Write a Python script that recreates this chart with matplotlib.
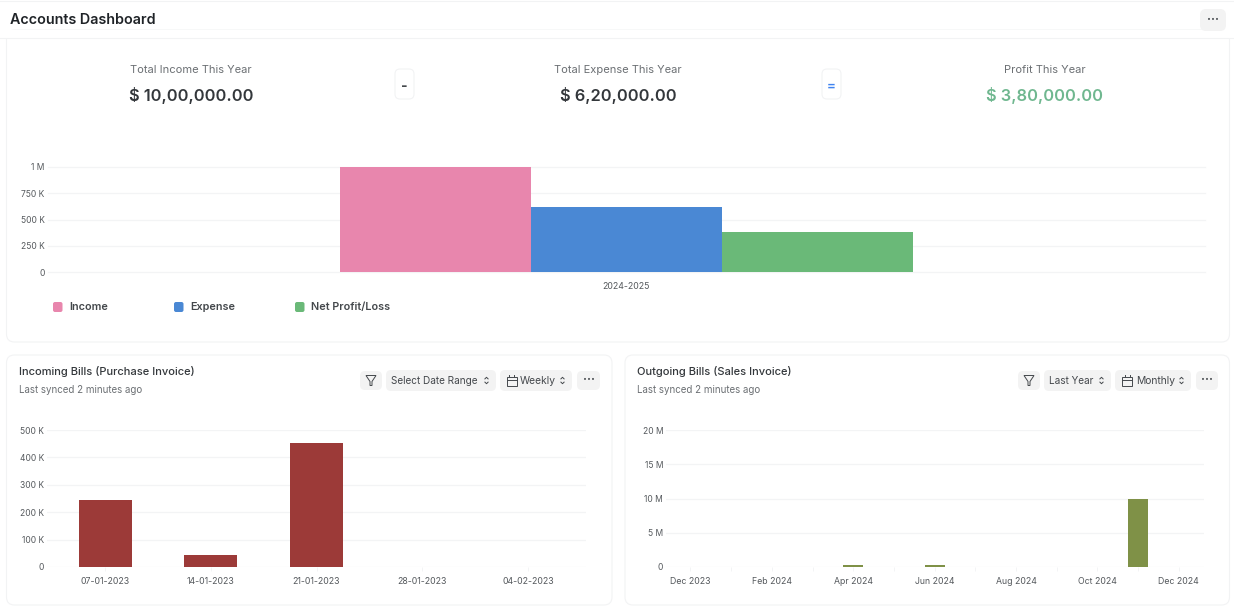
import matplotlib
matplotlib.use("Agg")
import matplotlib.pyplot as plt
from matplotlib.patches import FancyBboxPatch, Polygon, Rectangle

plt.rcParams['font.family'] = ['Inter', 'DejaVu Sans']

W, H = 1234, 614

# top chart
period = ["2024-2025"]
series_names = ["Income", "Expense", "Net Profit/Loss"]
series_values = [1000000, 620000, 380000]
series_colors = ["#E886AD", "#4A88D4", "#6AB978"]
top_ticks = [0, 250000, 500000, 750000, 1000000]
top_ticklabels = ["0", "250 K", "500 K", "750 K", "1 M"]

# incoming bills
in_weeks = ["07-01-2023", "14-01-2023", "21-01-2023", "28-01-2023", "04-02-2023"]
in_values = [245000, 45000, 452000, 0, 0]
in_ticks = [0, 100000, 200000, 300000, 400000, 500000]
in_ticklabels = ["0", "100 K", "200 K", "300 K", "400 K", "500 K"]

# outgoing bills
out_months = ["Dec 2023", "Jan 2024", "Feb 2024", "Mar 2024", "Apr 2024", "May 2024", "Jun 2024",
              "Jul 2024", "Aug 2024", "Sep 2024", "Oct 2024", "Nov 2024", "Dec 2024"]
out_values = [0, 0, 0, 0, 300000, 0, 300000, 70000, 70000, 0, 0, 10000000, 0]
out_ticks = [0, 5000000, 10000000, 15000000, 20000000]
out_ticklabels = ["0", "5 M", "10 M", "15 M", "20 M"]

GRID = "#F3F4F5"
BORDER = "#F2F3F4"
BTN = "#F3F3F3"
DARK = "#1F2327"
GREY = "#6B6F73"


def chart_axes(fig, left, right, top, bottom):
    # pixel box -> axes
    ax = fig.add_axes([left / W, 1 - bottom / H, (right - left) / W, (bottom - top) / H])
    ax.patch.set_alpha(0)
    for s in ax.spines.values():
        s.set_visible(False)
    ax.grid(axis="y", color=GRID, linewidth=0.9)
    ax.set_axisbelow(True)
    ax.tick_params(axis="y", length=0, pad=2, labelsize=6.1, labelcolor="#55595D")
    ax.tick_params(axis="x", length=0, pad=7, labelsize=6.3, labelcolor="#55595D")
    return ax


def round_box(bg, x0, y0, x1, y1, r, face, edge="none", lw=0.8):
    bg.add_patch(FancyBboxPatch((x0 + r, y0 + r), x1 - x0 - 2 * r, y1 - y0 - 2 * r,
                                boxstyle="round,pad=%f,rounding_size=%f" % (r, r),
                                facecolor=face, edgecolor=edge, linewidth=lw))


def chevrons(bg, x, y):
    bg.plot([x - 1.6, x, x + 1.6], [y - 1.6, y - 3.2, y - 1.6], color="#44484C", lw=0.7)
    bg.plot([x - 1.6, x, x + 1.6], [y + 1.6, y + 3.2, y + 1.6], color="#44484C", lw=0.7)


def funnel(bg, x, y):
    bg.add_patch(Polygon([(x - 5, y - 5), (x + 5, y - 5), (x + 1, y + 1), (x + 1, y + 5),
                          (x - 1, y + 5), (x - 1, y + 1)], closed=True, fill=False,
                         edgecolor="#44484C", linewidth=0.7))


def calendar(bg, x, y):
    bg.add_patch(Rectangle((x - 5, y - 4), 10, 9, fill=False, edgecolor="#44484C", linewidth=0.7))
    bg.plot([x - 5, x + 5], [y - 1, y - 1], color="#44484C", lw=0.7)
    bg.plot([x - 2.5, x - 2.5], [y - 6, y - 4], color="#44484C", lw=0.7)
    bg.plot([x + 2.5, x + 2.5], [y - 6, y - 4], color="#44484C", lw=0.7)


def dots(bg, x, y):
    bg.text(x, y, "···", ha="center", va="center", fontsize=8.5, color="#44484C", fontweight="bold")


fig = plt.figure(figsize=(W / 100, H / 100), dpi=100, facecolor="white")

# page layer in pixel coordinates
bg = fig.add_axes([0, 0, 1, 1])
bg.set_xlim(0, W)
bg.set_ylim(H, 0)
bg.axis("off")

bg.plot([0, W], [1, 1], color=BORDER, lw=0.8)
bg.text(10, 20, "Accounts Dashboard", fontsize=10.3, fontweight="semibold", color=DARK, va="center")

# cards
round_box(bg, 6.5, 30, 1229.5, 342, 8, "white", BORDER)
bg.add_patch(Rectangle((0, 30), W, 8, facecolor="white", edgecolor="none"))
round_box(bg, 1200, 9, 1226, 31, 6, BTN)
dots(bg, 1213, 19.5)
bg.plot([0, W], [38, 38], color=BORDER, lw=0.8)
round_box(bg, 6.5, 355, 612, 605, 8, "white", BORDER)
round_box(bg, 625, 355, 1229.5, 605, 8, "white", BORDER)

# number cards
bg.text(191, 70, "Total Income This Year", ha="center", va="center", fontsize=8, color=GREY)
bg.text(191, 95, "$ 10,00,000.00", ha="center", va="center", fontsize=11.8, fontweight="semibold", color="#33373B")
bg.text(618, 70, "Total Expense This Year", ha="center", va="center", fontsize=8, color=GREY)
bg.text(618, 95, "$ 6,20,000.00", ha="center", va="center", fontsize=11.8, fontweight="semibold", color="#33373B")
bg.text(1045, 70, "Profit This Year", ha="center", va="center", fontsize=8, color=GREY)
bg.text(1045, 95, "$ 3,80,000.00", ha="center", va="center", fontsize=11.8, fontweight="semibold", color="#6FB78F")

round_box(bg, 395, 69, 414, 99, 5, "white", BORDER)
bg.text(404.5, 86, "-", ha="center", va="center", fontsize=10, fontweight="bold", color="#44484C")
round_box(bg, 822, 69, 841, 99, 5, "white", BORDER)
bg.text(831.5, 87, "=", ha="center", va="center", fontsize=9.5, fontweight="bold", color="#3F83F0")

# top chart
ax_top = chart_axes(fig, 47.5, 1205, 167, 272)
bar_w = 0.165
for i, name in enumerate(series_names):
    ax_top.bar((i - 1) * bar_w, series_values[i], bar_w, color=series_colors[i], label=name)
ax_top.set_xlim(-0.5, 0.5)
ax_top.set_ylim(0, 1000000)
ax_top.set_yticks(top_ticks, top_ticklabels)
ax_top.set_xticks([0], period)
for t in ax_top.get_ygridlines():
    t.set_clip_on(False)

# legend
for x, name, c in zip([53, 174, 295], series_names, series_colors):
    round_box(bg, x, 302, x + 9.5, 312, 2, c)
    bg.text(x + 16, 307, name, va="center", fontsize=7.8, fontweight="semibold", color="#44484C")

# incoming bills
bg.text(19, 371.5, "Incoming Bills (Purchase Invoice)", va="center", fontsize=8, fontweight="medium", color="#33373B")
bg.text(19, 390, "Last synced 2 minutes ago", va="center", fontsize=7, color=GREY)
round_box(bg, 360, 371, 382, 390, 5, BTN)
funnel(bg, 371, 380.5)
round_box(bg, 386, 370, 496, 391, 5, BTN)
bg.text(391, 380.5, "Select Date Range", va="center", fontsize=7.2, color="#44484C")
chevrons(bg, 486.5, 380.5)
round_box(bg, 500, 370, 572, 391, 5, BTN)
calendar(bg, 511.5, 381)
bg.text(520, 380.5, "Weekly", va="center", fontsize=7.4, color="#44484C")
chevrons(bg, 562.5, 380.5)
round_box(bg, 577, 371, 600, 390, 5, BTN)
dots(bg, 588.5, 380)

ax_in = chart_axes(fig, 47, 586, 430, 567)
ax_in.bar(range(len(in_weeks)), in_values, 0.5, color="#9C3A38")
ax_in.set_xlim(-0.55, 4.55)
ax_in.set_ylim(0, 500000)
ax_in.set_yticks(in_ticks, in_ticklabels)
ax_in.set_xticks(range(len(in_weeks)), in_weeks)
ax_in.tick_params(axis="x", length=3, width=0.7, color=GRID, pad=4)

# outgoing bills
bg.text(637, 371.5, "Outgoing Bills (Sales Invoice)", va="center", fontsize=8, fontweight="medium", color="#33373B")
bg.text(637, 390, "Last synced 2 minutes ago", va="center", fontsize=7, color=GREY)
round_box(bg, 1018, 371, 1040, 390, 5, BTN)
funnel(bg, 1029, 380.5)
round_box(bg, 1044, 370, 1111, 391, 5, BTN)
bg.text(1049, 380.5, "Last Year", va="center", fontsize=7.2, color="#44484C")
chevrons(bg, 1101.5, 380.5)
round_box(bg, 1115, 370, 1191, 391, 5, BTN)
calendar(bg, 1127, 381)
bg.text(1136, 380.5, "Monthly", va="center", fontsize=7.4, color="#44484C")
chevrons(bg, 1181.5, 380.5)
round_box(bg, 1196, 371, 1218, 390, 5, BTN)
dots(bg, 1207, 380)

ax_out = chart_axes(fig, 666, 1204, 430, 567)
ax_out.bar(range(len(out_months)), out_values, 0.49, color="#7F9147")
ax_out.set_xlim(-0.6, 12.62)
ax_out.set_ylim(0, 20000000)
ax_out.set_yticks(out_ticks, out_ticklabels)
ax_out.set_xticks(range(len(out_months)), [m if i % 2 == 0 else "" for i, m in enumerate(out_months)])
ax_out.tick_params(axis="x", length=3, width=0.7, color=GRID, pad=4)

fig.savefig("out.png", dpi=100)
